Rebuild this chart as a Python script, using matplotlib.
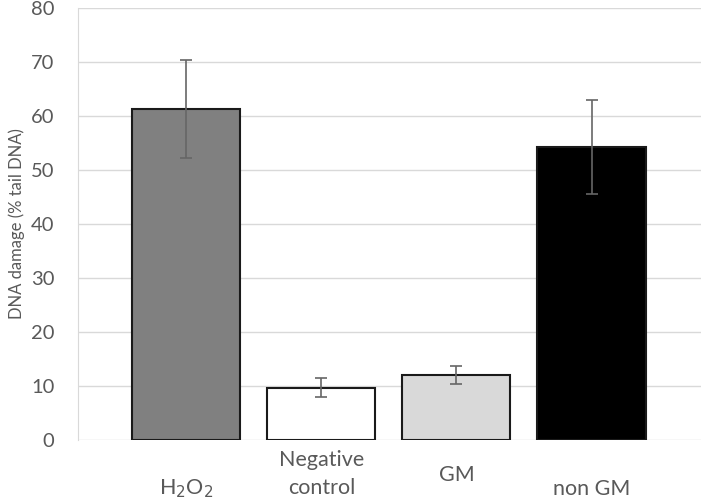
import numpy as np
import matplotlib.pyplot as plt
import matplotlib.transforms as mtransforms

plt.rcParams['font.family'] = ['Lato', 'DejaVu Sans']

categories = ["H$_2$O$_2$", "Negative\ncontrol", "GM", "non GM"]
damage = [61.3, 9.7, 12.0, 54.3]
errors = [9.1, 1.8, 1.7, 8.7]
colors = ["#808080", "#ffffff", "#d9d9d9", "#000000"]

fig = plt.figure(figsize=(7.01, 5.01), dpi=100)
ax = fig.add_axes([78 / 701, 1 - 440 / 501, 623 / 701, 432 / 501])

x = np.arange(len(categories))
ax.bar(x, damage, width=0.8, color=colors, edgecolor="#1a1a1a", linewidth=1.5, zorder=3)
ax.errorbar(x, damage, yerr=errors, fmt="none", ecolor="#666666", elinewidth=1.2,
            capsize=4, capthick=1.2, zorder=4)

ax.set_xlim(-0.8, 3.81)
ax.set_ylim(0, 80)
ax.set_yticks(np.arange(0, 81, 10))
ax.yaxis.grid(True, color="#d9d9d9", linewidth=1)
ax.set_axisbelow(True)
for s in ["top", "right", "bottom"]:
    ax.spines[s].set_visible(False)
ax.spines["left"].set_color("#d9d9d9")
ax.tick_params(axis="y", length=0, pad=17, labelsize=14.5, labelcolor="#595959")
ax.set_xticks([])
ax.set_ylabel("DNA damage (% tail DNA)", fontsize=12, color="#595959", labelpad=4)

# category labels placed like the original (uneven vertical alignment)
trans = mtransforms.blended_transform_factory(ax.transData, fig.transFigure)
label_y = [1 - 489 / 501, 1 - 474 / 501, 1 - 475 / 501, 1 - 489 / 501]
for xi, lab, ly in zip(x, categories, label_y):
    ax.text(xi, ly, lab, transform=trans, ha="center", va="center",
            fontsize=15.5, color="#595959", linespacing=1.45)

fig.savefig("out.png", dpi=100)
